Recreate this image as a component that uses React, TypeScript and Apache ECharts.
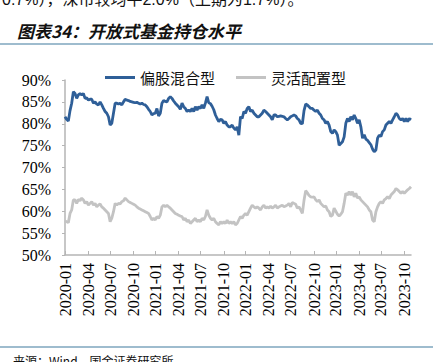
import React, { useEffect, useRef } from "react";
import * as echarts from "echarts";

const seriesNames = ["偏股混合型", "灵活配置型"];

const equityHybrid = [
  81.6, 81.0, 80.6, 83.0, 84.7, 87.3, 86.9, 85.8, 86.6, 86.9, 86.6, 86.9, 85.8, 85.9, 85.4, 85.6, 85.6, 84.7, 85.0, 84.5,
  84.3, 85.0, 84.3, 83.5, 82.8, 82.4, 81.6, 79.7, 80.1, 82.4, 84.7, 84.7, 84.5, 84.7, 84.3, 85.0, 85.6, 85.4, 85.3, 85.1,
  85.0, 84.9, 84.8, 84.9, 84.7, 84.5, 84.7, 84.4, 84.3, 83.9, 83.3, 82.8, 82.0, 82.3, 82.4, 83.5, 81.8, 82.4, 84.7, 85.3,
  85.1, 85.0, 85.8, 86.2, 85.8, 85.2, 84.7, 84.3, 83.9, 83.3,
  84.7, 83.9, 83.5, 82.8, 83.1, 82.8, 83.5, 82.8, 83.9, 83.1, 83.9, 83.5, 84.3, 83.5, 84.7, 86.2, 84.8, 84.6, 84.0, 83.2,
  82.0, 81.2, 80.5, 81.0, 80.9, 80.1, 80.5, 79.7, 79.3, 79.3, 79.7, 79.0, 78.6, 79.3, 77.4, 81.6, 81.2, 82.8, 82.4, 83.5,
  83.9, 82.8, 83.1, 82.4, 82.0, 81.6, 81.6, 82.0, 82.4, 83.1, 82.8, 82.4, 82.0, 81.6, 80.9, 82.0, 82.0, 81.6, 81.7, 81.8,
  81.7, 81.6, 81.2, 80.9, 81.2, 81.6, 81.8, 82.0, 81.8,
  81.2, 80.9, 80.1, 80.0, 83.0, 84.5, 84.3, 83.9, 83.5, 83.5, 83.1, 82.8, 83.1, 82.4, 82.0, 81.2, 80.9, 80.1, 80.5, 79.7,
  78.2, 77.8, 78.6, 78.2, 77.4, 75.1, 75.5, 75.9, 77.0, 80.1, 81.2, 80.5, 81.6, 80.9, 82.0, 81.2, 80.1, 80.9, 79.3, 76.7,
  77.5, 76.5, 76.2, 75.7, 75.2, 74.2, 73.6, 74.0, 76.7, 77.4, 77.1, 78.2, 78.6, 79.7, 80.1, 80.5, 80.1, 80.9, 81.6, 82.4,
  82.0, 81.2, 80.9, 81.2, 80.5, 81.2, 80.5, 81.2, 80.9,
];

const flexibleAllocation = [
  57.8, 57.6, 57.4, 59.5, 60.3, 62.6, 62.6, 61.8, 62.7, 62.4, 63.0, 62.6, 61.8, 62.2, 61.4, 61.8, 62.2, 61.4, 61.8, 61.0,
  61.4, 61.7, 61.0, 60.7, 60.3, 59.9, 59.5, 57.6, 58.4, 59.9, 61.8, 61.4, 61.8, 61.7, 62.2, 62.4, 63.0, 62.6, 62.2, 62.0,
  61.8, 61.6, 61.4, 61.0, 60.7, 60.5, 60.3, 60.1, 59.9, 59.7, 59.5, 58.8, 58.0, 58.4, 58.0, 58.8, 58.4, 59.1, 61.0, 61.4,
  61.0, 61.4, 61.0, 60.7, 60.3, 59.9, 59.5, 59.3, 59.1, 58.9,
  58.8, 58.0, 58.4, 57.6, 58.0, 57.2, 57.6, 58.0, 58.4, 57.6, 58.0, 57.6, 58.4, 58.0, 58.8, 60.3, 59.1, 58.4, 58.0, 58.4,
  57.6, 57.2, 56.9, 57.6, 57.2, 57.6, 57.2, 58.0, 57.2, 57.6, 57.2, 57.6, 56.9, 57.2, 58.0, 58.8, 58.4, 59.1, 59.5, 59.1,
  59.9, 60.7, 61.4, 61.0, 60.7, 61.0, 60.7, 60.3, 61.0, 61.4, 60.7, 61.0, 60.7, 61.2, 60.7, 61.0, 61.4, 60.7, 61.0, 61.2,
  61.4, 61.0, 61.2, 61.4, 61.8, 61.0, 62.0, 61.8, 61.6,
  60.7, 61.0, 60.3, 59.5, 62.5, 64.7, 64.2, 63.6, 63.3, 63.2, 63.3, 62.6, 62.2, 62.6, 61.8, 61.4, 61.0, 61.2, 60.3, 59.9,
  58.8, 59.1, 60.7, 60.0, 59.3, 58.9, 59.3, 59.9, 61.8, 64.1, 63.7, 64.5, 63.7, 64.5, 63.3, 64.1, 63.0, 63.3, 62.6, 62.2,
  61.8, 61.4, 61.0, 60.3, 59.9, 58.0, 57.6, 59.9, 61.0, 61.8, 62.2, 61.8, 62.6, 62.9, 63.3, 62.9, 63.7, 64.1, 64.5, 65.2,
  64.9, 64.5, 64.1, 64.5, 64.1, 64.5, 64.9, 65.2, 65.6,
];

const firstDate = Date.UTC(2020, 0, 3);
const lastDate = Date.UTC(2023, 10, 3);

const yTicks = { min: 50, max: 90, interval: 5 };

const pad = (n: number) => (n < 10 ? "0" + n : "" + n);
const dates: string[] = equityHybrid.map((_, i) => {
  const t = firstDate + ((lastDate - firstDate) * i) / (equityHybrid.length - 1);
  const d = new Date(t);
  return `${d.getUTCFullYear()}-${pad(d.getUTCMonth() + 1)}-${pad(d.getUTCDate())}`;
});

const isQuarterStart = (idx: number) => {
  const m = parseInt(dates[idx].slice(5, 7), 10);
  if ((m - 1) % 3 !== 0) return false;
  if (idx === 0) return true;
  return dates[idx - 1].slice(0, 7) !== dates[idx].slice(0, 7);
};

const SERIF = "'Liberation Serif', 'Times New Roman', 'DejaVu Serif', serif";

export default function App() {
  const ref = useRef<HTMLDivElement>(null);
  useEffect(() => {
    if (!ref.current) return;
    const chart = echarts.init(ref.current, null, { renderer: "svg" });
    const lineColor = "#7ea6be";
    chart.setOption({
      animation: false,
      backgroundColor: "#ffffff",
      graphic: [
        {
          type: "text",
          left: 2,
          top: -9,
          style: {
            text: "0.7%），深市较均平2.0%（上期为1.7%）。",
            fontSize: 16,
            fontFamily: "'Liberation Sans', 'Noto Sans CJK SC'",
            fill: "#111",
          },
        },
        {
          type: "text",
          left: 17,
          top: 22,
          style: {
            text: "图表34：开放式基金持仓水平",
            fontSize: 17,
            fontStyle: "italic",
            fontWeight: "bold",
            fontFamily: "'Noto Sans CJK SC'",
            fill: "#111",
          },
        },
        { type: "line", shape: { x1: 0, y1: 44, x2: 433, y2: 44 }, style: { stroke: lineColor, lineWidth: 1.5 } },
        { type: "line", shape: { x1: 0, y1: 347, x2: 433, y2: 347 }, style: { stroke: lineColor, lineWidth: 1.5 } },
        {
          type: "text",
          left: 13,
          top: 354,
          style: {
            text: "来源：Wind，国金证券研究所",
            fontSize: 12,
            fontFamily: "'Noto Sans CJK SC'",
            fill: "#111",
          },
        },
      ],
      legend: {
        left: 100,
        top: 65,
        icon: "rect",
        itemWidth: 30,
        itemHeight: 3,
        itemGap: 21,
        textStyle: { fontSize: 15, fontFamily: "'Noto Sans CJK SC'", color: "#111" },
        data: seriesNames,
      },
      grid: { left: 65, right: 29, top: 80, bottom: 107, containLabel: false },
      xAxis: {
        type: "category",
        boundaryGap: false,
        data: dates,
        axisLine: { lineStyle: { color: "#b5b5b5", width: 1.5 } },
        axisTick: {
          inside: true,
          length: 4,
          interval: (idx: number) => isQuarterStart(idx),
          lineStyle: { color: "#b5b5b5" },
        },
        axisLabel: {
          interval: (idx: number) => isQuarterStart(idx),
          rotate: 90,
          margin: 8,
          fontSize: 16,
          fontFamily: SERIF,
          color: "#000",
          formatter: (v: string) => v.slice(0, 7),
        },
        splitLine: { show: false },
      },
      yAxis: {
        type: "value",
        min: yTicks.min,
        max: yTicks.max,
        interval: yTicks.interval,
        axisLine: { show: true, lineStyle: { color: "#b5b5b5", width: 1.5 } },
        axisTick: { show: true, length: 3, lineStyle: { color: "#b5b5b5" } },
        axisLabel: {
          margin: 14,
          fontSize: 16,
          fontFamily: SERIF,
          color: "#000",
          formatter: (v: number) => `${v}%`,
        },
        splitLine: { show: false },
      },
      series: [
        {
          name: seriesNames[0],
          type: "line",
          data: equityHybrid,
          symbol: "none",
          lineStyle: { color: "#2f5f98", width: 2.8 },
          itemStyle: { color: "#2f5f98" },
        },
        {
          name: seriesNames[1],
          type: "line",
          data: flexibleAllocation,
          symbol: "none",
          lineStyle: { color: "#c3c3c3", width: 2.8 },
          itemStyle: { color: "#c3c3c3" },
        },
      ],
    });
    return () => chart.dispose();
  }, []);
  return (
    <div
      ref={ref}
      style={{ position: "fixed", left: 0, top: 0, width: 440, height: 362 }}
    />
  );
}
